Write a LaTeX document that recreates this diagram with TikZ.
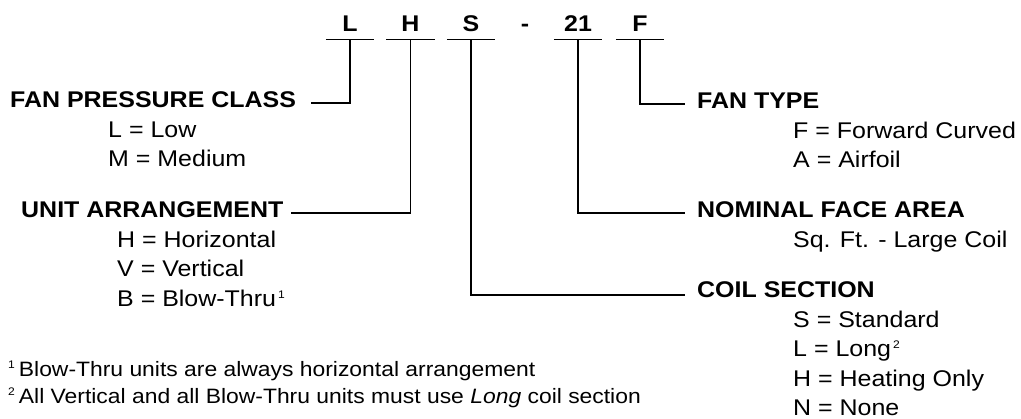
\documentclass[tikz,border=0pt]{standalone}
\usepackage{fontspec}
\setmainfont{Liberation Sans}[FakeStretch=1.1]
\usetikzlibrary{positioning}
\newcommand{\labelsize}{\fontsize{22.7pt}{27pt}\selectfont}
\newcommand{\notesize}{\fontsize{20.8pt}{24pt}\selectfont}
\newcommand{\supnum}[1]{\raisebox{8pt}{\fontsize{11pt}{11pt}\selectfont #1}}
\tikzset{
  codebox/.style={font=\labelsize\bfseries, inner sep=0pt, minimum width=48pt, text height=17pt, text depth=7.3pt},
  heading/.style={font=\labelsize\bfseries, inner sep=0pt, text height=16.5pt, text depth=2pt},
  entry/.style={font=\labelsize, inner sep=0pt, text height=16.5pt, text depth=2pt},
  note/.style={font=\notesize, inner sep=0pt},
  line/.style={draw, line width=1.2pt}
}

\begin{document}
\begin{tikzpicture}[x=1pt, y=-1pt, node distance=10.5pt]
    \useasboundingbox (0,0) rectangle (1021,419);

    % model number
    \node[codebox, anchor=base](cL) at (350,32) {L};
    \node[codebox, anchor=base](cH) at (410.5,32) {H};
    \node[codebox, anchor=base](cS) at (471,32) {S};
    \node[font=\labelsize\bfseries, inner sep=0pt, anchor=base](cDash) at (525,32) {-};
    \node[codebox, anchor=base](cNum) at (578,32) {21};
    \node[codebox, anchor=base](cF) at (640,32) {F};
    \foreach \c in {cL,cH,cS,cNum,cF}
        \path[line] (\c.south west) -- (\c.south east);

    % headings
    \node[heading, anchor=base west](hPressure) at (10,108) {FAN PRESSURE CLASS};
    \node[heading, anchor=base west](hArrange) at (21,218) {UNIT ARRANGEMENT};
    \node[heading, anchor=base west](hFanType) at (697,109) {FAN TYPE};
    \node[heading, anchor=base west](hFace) at (697,218) {NOMINAL FACE AREA};
    \node[heading, anchor=base west](hCoil) at (697,298) {COIL SECTION};

    % entries
    \node[entry, below right=10.5pt and 98pt of hPressure.south west](pLow) {L = Low};
    \node[entry, below=of pLow.south west, anchor=north west](pMed) {M = Medium};

    \node[entry, below right=10.5pt and 96pt of hArrange.south west](aHor) {H = Horizontal};
    \node[entry, below=of aHor.south west, anchor=north west](aVer) {V = Vertical};
    \node[entry, below=of aVer.south west, anchor=north west](aBlow) {B = Blow-Thru\hspace{2pt}\supnum{1}};

    \node[entry, below right=10.5pt and 96pt of hFanType.south west](tFwd) {F = Forward Curved};
    \node[entry, below=of tFwd.south west, anchor=north west](tAir) {A = Airfoil};

    \node[entry, below right=10.5pt and 96pt of hFace.south west](fSq) {Sq. Ft. - Large Coil};

    \node[entry, below right=10.5pt and 96pt of hCoil.south west](sStd) {S = Standard};
    \node[entry, below=of sStd.south west, anchor=north west](sLong) {L = Long\hspace{2pt}\supnum{2}};
    \node[entry, below=of sLong.south west, anchor=north west](sHeat) {H = Heating Only};
    \node[entry, below=of sHeat.south west, anchor=north west](sNone) {N = None};

    % connectors
    \path[line] (cL.south)   |- ([shift={(15pt,5pt)}]hPressure.base east);
    \path[line] (cH.south)   |- ([shift={(7pt,5pt)}]hArrange.base east);
    \path[line] (cS.south)   |- ([shift={(-12pt,3pt)}]hCoil.base west);
    \path[line] (cNum.south) |- ([shift={(-12pt,5pt)}]hFace.base west);
    \path[line] (cF.south)   |- ([shift={(-12pt,5pt)}]hFanType.base west);

    % footnotes
    \node[note, anchor=base west](n1) at (8,377) {\supnum{1}\hspace{4pt}Blow-Thru units are always horizontal arrangement};
    \node[note, anchor=base west](n2) at (8,404) {\supnum{2}\hspace{4pt}All Vertical and all Blow-Thru units must use \textit{Long} coil section};
\end{tikzpicture}
\end{document}
